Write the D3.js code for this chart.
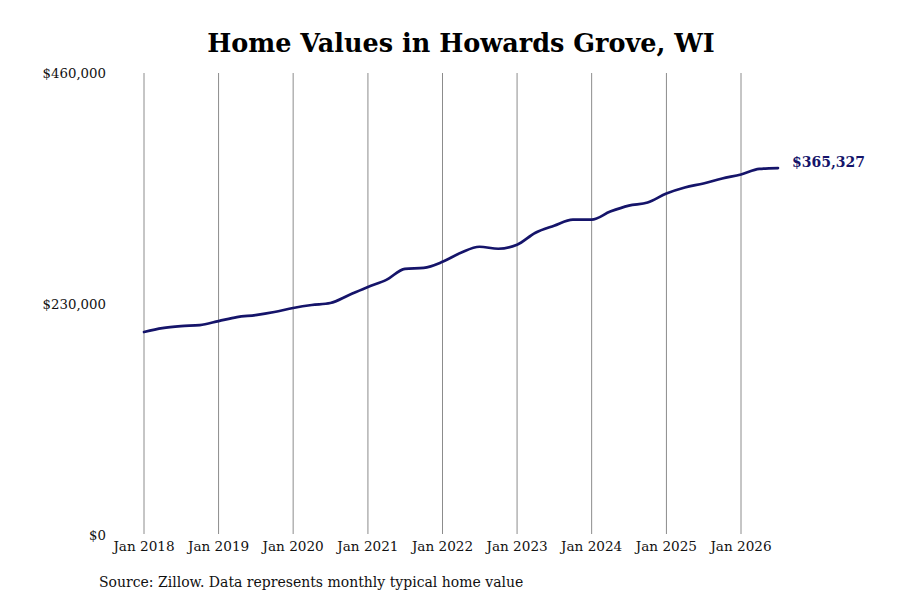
<!DOCTYPE html>
<html>
<head>
<meta charset="utf-8">
<script src="https://cdn.jsdelivr.net/npm/d3@7"></script>
<style>
  body { margin: 0; background: #fff; }
  svg { font-family: "DejaVu Serif", serif; }
</style>
</head>
<body>
<svg class="chart"></svg>
<script>
// quarterly typical home values
const dates = [
  "2018-01","2018-04","2018-07","2018-10",
  "2019-01","2019-04","2019-07","2019-10",
  "2020-01","2020-04","2020-07","2020-10",
  "2021-01","2021-04","2021-07","2021-10",
  "2022-01","2022-04","2022-07","2022-10",
  "2023-01","2023-04","2023-07","2023-10",
  "2024-01","2024-04","2024-07","2024-10",
  "2025-01","2025-04","2025-07","2025-10",
  "2026-01","2026-04","2026-07"
];
const values = [
  202100, 206000, 208000, 209000,
  213000, 217000, 219000, 222000,
  226000, 229000, 231000, 239000,
  247000, 254000, 265000, 266000,
  272000, 281000, 287000, 285000,
  289000, 301000, 308000, 314000,
  314000, 322000, 328000, 331000,
  340000, 346000, 350000, 355000,
  359000, 364500, 365327
];
const yTicks = [0, 230000, 460000];
const xTickYears = [2018, 2019, 2020, 2021, 2022, 2023, 2024, 2025, 2026];

const width = 900, height = 600;
const svg = d3.select(".chart").attr("width", width).attr("height", height);

const parse = d3.timeParse("%Y-%m");
const data = dates.map((d, i) => ({ date: parse(d), value: values[i] }));

const x = d3.scaleTime()
  .domain([new Date(2018, 0, 1), new Date(2026, 0, 1)])
  .range([144, 741]);
const y = d3.scaleLinear().domain([0, 460000]).range([535, 73]);

// title
svg.append("text")
  .attr("x", 461).attr("y", 52)
  .attr("text-anchor", "middle")
  .attr("font-size", 25.5).attr("font-weight", "bold")
  .attr("fill", "#000")
  .text("Home Values in Howards Grove, WI");

// vertical grid lines
svg.append("g").selectAll("line")
  .data(xTickYears)
  .join("line")
  .attr("x1", d => x(new Date(d, 0, 1))).attr("x2", d => x(new Date(d, 0, 1)))
  .attr("y1", 73).attr("y2", 534)
  .attr("stroke", "#8c8c8c").attr("stroke-width", 1);

// x tick labels
svg.append("g").selectAll("text")
  .data(xTickYears)
  .join("text")
  .attr("x", d => x(new Date(d, 0, 1)))
  .attr("y", 551)
  .attr("text-anchor", "middle")
  .attr("font-size", 13.6)
  .attr("fill", "#111")
  .text(d => "Jan " + d);

// y tick labels
const fmt = d3.format("$,.0f");
svg.append("g").selectAll("text")
  .data(yTicks)
  .join("text")
  .attr("x", 106)
  .attr("y", d => y(d))
  .attr("dy", "0.35em")
  .attr("text-anchor", "end")
  .attr("font-size", 13.3)
  .attr("fill", "#111")
  .text(d => fmt(d));

// the line
const line = d3.line()
  .x(d => x(d.date))
  .y(d => y(d.value))
  .curve(d3.curveMonotoneX);

svg.append("path")
  .datum(data)
  .attr("d", line)
  .attr("fill", "none")
  .attr("stroke", "#15146a")
  .attr("stroke-width", 2.7)
  .attr("stroke-linecap", "round");

// end label
const last = data[data.length - 1];
svg.append("text")
  .attr("x", x(last.date) + 14)
  .attr("y", y(last.value) - 6)
  .attr("dy", "0.35em")
  .attr("font-size", 14).attr("font-weight", "bold")
  .attr("fill", "#15146a")
  .text(fmt(last.value));

// source note
svg.append("text")
  .attr("x", 99).attr("y", 587)
  .attr("font-size", 14)
  .attr("fill", "#111")
  .text("Source: Zillow. Data represents monthly typical home value");
</script>
</body>
</html>
